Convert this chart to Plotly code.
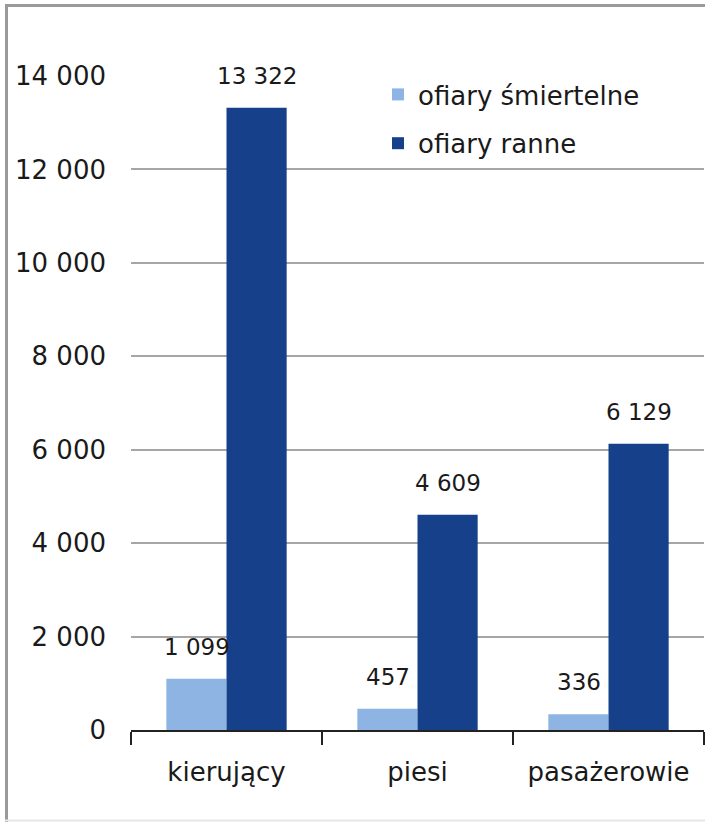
import plotly.graph_objects as go

categories = ["kierujący", "piesi", "pasażerowie"]
fatal = [1099, 457, 336]
injured = [13322, 4609, 6129]
series_names = ["ofiary śmiertelne", "ofiary ranne"]
y_ticks = [0, 2000, 4000, 6000, 8000, 10000, 12000, 14000]

light = "#8DB4E2"
dark = "#17408B"
FONT = "DejaVu Sans"

def fmt(v):
    return f"{v:,}".replace(",", " ")

fig = go.Figure()
fig.add_trace(go.Bar(x=categories, y=fatal, name=series_names[0], marker_color=light,
                     marker_line_width=0, legendgroup="a"))
fig.add_trace(go.Bar(x=categories, y=injured, name=series_names[1], marker_color=dark,
                     marker_line_width=0, legendgroup="b"))

annotations = []
for c, v in zip(categories, fatal):
    annotations.append(dict(x=c, y=v, text=fmt(v), showarrow=False, xshift=-30, yshift=32,
                            yanchor="middle", font=dict(size=23, color="#1a1a1a", family=FONT)))
for c, v in zip(categories, injured):
    annotations.append(dict(x=c, y=v, text=fmt(v), showarrow=False, xshift=30, yshift=32,
                            yanchor="middle", font=dict(size=23, color="#1a1a1a", family=FONT)))

W, H = 573, 654
L, T = 131, 76
def px(x):
    return (x - L) / W
def py(y):
    return (T + H - y) / H

shapes = [
    dict(type="line", xref="paper", yref="paper", x0=px(6.5), x1=px(6.5), y0=py(4), y1=py(822),
         line=dict(color="#9a9a9a", width=3)),
    dict(type="line", xref="paper", yref="paper", x0=px(5), x1=px(710), y0=py(5.5), y1=py(5.5),
         line=dict(color="#9a9a9a", width=3)),
    dict(type="line", xref="paper", yref="paper", x0=px(5), x1=px(710), y0=py(820.5), y1=py(820.5),
         line=dict(color="#e6e6e6", width=2)),
]

fig.update_layout(
    width=705, height=822,
    margin=dict(l=L, r=705 - L - W, t=T, b=822 - T - H),
    paper_bgcolor="white", plot_bgcolor="white",
    barmode="group", bargap=0.37, bargroupgap=0,
    separators=", ",
    font=dict(family=FONT, size=26, color="#1a1a1a"),
    showlegend=True,
    legend=dict(x=px(378), y=py(71), xanchor="left", yanchor="top",
                font=dict(size=26, family=FONT, color="#1a1a1a"),
                bgcolor="rgba(0,0,0,0)", traceorder="grouped", tracegroupgap=12),
    annotations=annotations,
    shapes=shapes,
)
fig.update_yaxes(range=[0, 14000], tickvals=y_ticks, tickformat=",d",
                 showgrid=True, gridcolor="#a6a6a6", gridwidth=1.5,
                 showline=False, zeroline=False, ticks="", ticklabelstandoff=24,
                 tickfont=dict(size=26, family=FONT, color="#1a1a1a"))
fig.update_xaxes(showline=True, linecolor="#222222", linewidth=1.5,
                 ticks="outside", tickson="boundaries", ticklen=13, tickcolor="#222222", tickwidth=1.5,
                 ticklabelstandoff=18, showgrid=False,
                 tickfont=dict(size=26, family=FONT, color="#1a1a1a"))

fig.write_html("out.html", config={"displayModeBar": False},
               post_script="document.body.style.margin='0';document.body.style.overflow='hidden';")
